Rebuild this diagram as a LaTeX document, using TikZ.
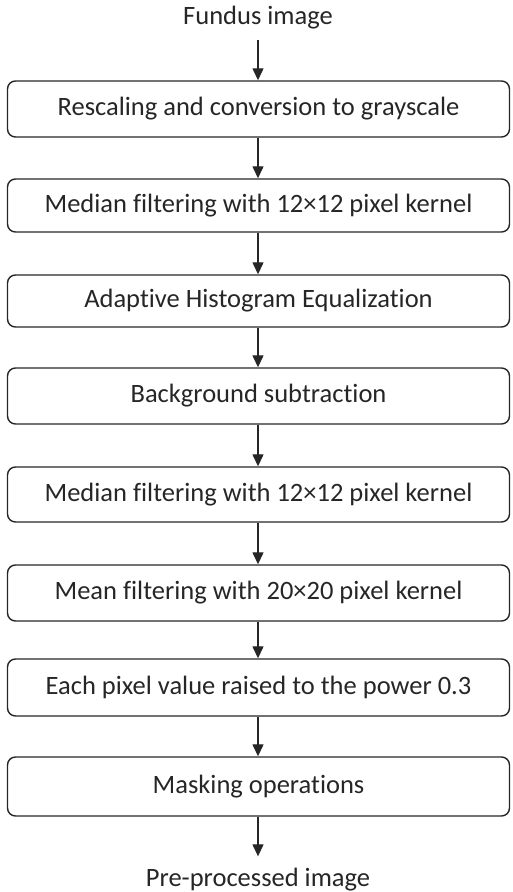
\documentclass[tikz,border=0pt]{standalone}
\usepackage{fontspec}
\setmainfont[Ligatures={NoCommon,NoContextual}]{Carlito}
\usetikzlibrary{arrows.meta}
\definecolor{ink}{HTML}{262626}
% plain letter pairs, kept apart so the font does not join them
\newcommand\Tii{t\kern0pt i}
\newcommand\Fii{f\kern0pt i}
\tikzset{
  stage/.style={draw=ink, line width=1.4pt, rounded corners=8pt,
    minimum width=502pt, inner sep=0pt, text=ink, font=\fontsize{26.5}{30}\selectfont},
  label/.style={text=ink, font=\fontsize{26.5}{30}\selectfont, inner sep=0pt},
  flow/.style={draw=ink, line width=1.3pt, -{Triangle[length=12pt,width=11pt]}}
}
\begin{document}
\begin{tikzpicture}[x=1pt,y=-1pt]
  \useasboundingbox (0,0) rectangle (512,892);
  \node[label] (in) at (258,18) {Fundus image};
  \node[stage, minimum height=56pt] (b1) at (258.5,109) {Rescaling and conversion to grayscale};
  \node[stage, minimum height=53pt] (b2) at (258.5,205.5) {Median \Fii ltering with 12×12 pixel kernel};
  \node[stage, minimum height=52pt] (b3) at (258.5,301) {Adap\Tii ve Histogram Equalization};
  \node[stage, minimum height=56pt] (b4) at (258.5,396) {Background subtrac\Tii on};
  \node[stage, minimum height=55pt] (b5) at (258.5,494.5) {Median \Fii ltering with 12×12 pixel kernel};
  \node[stage, minimum height=56pt] (b6) at (258.5,593) {Mean \Fii ltering with 20×20 pixel kernel};
  \node[stage, minimum height=57pt] (b7) at (258.5,687.5) {Each pixel value raised to the power 0.3};
  \node[stage, minimum height=59pt] (b8) at (258.5,786.5) {Masking opera\Tii ons};
  \node[label] (out) at (258,880) {Pre-processed image};
  \draw[flow, shorten <=10pt] (in.south -| 258,0) -- (b1.north -| 258,0);
  \foreach \a/\b in {b1/b2,b2/b3,b3/b4,b4/b5,b5/b6,b6/b7,b7/b8}
    \draw[flow] (\a.south -| 258,0) -- (\b.north -| 258,0);
  \draw[flow, shorten >=12pt] (b8.south -| 258,0) -- (out.north -| 258,0);
\end{tikzpicture}
\end{document}
